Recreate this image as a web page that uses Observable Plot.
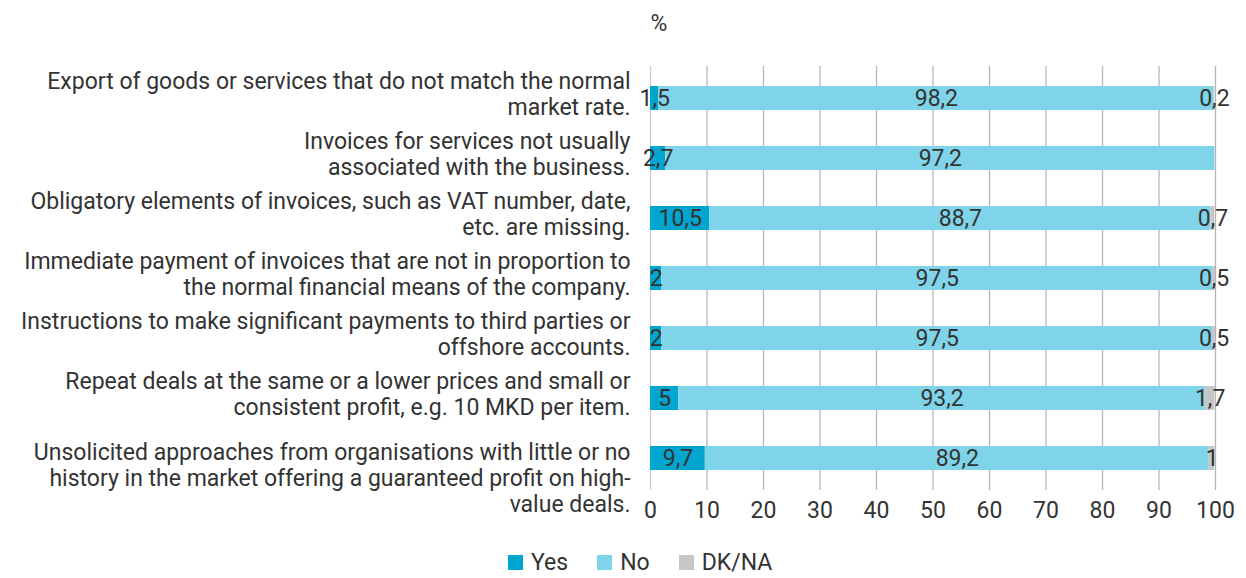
<!DOCTYPE html>
<html>
<head>
<meta charset="utf-8">
<script src="https://cdn.jsdelivr.net/npm/d3@7"></script>
<script src="https://cdn.jsdelivr.net/npm/@observablehq/plot@0.6"></script>
<style>
  html, body { margin: 0; padding: 0; background: #fff; }
  #wrap { position: relative; width: 1246px; height: 578px; font-family: "Roboto", sans-serif; color: #333; }
  #legend { position: absolute; left: 508px; top: 549px; display: flex; align-items: center; font-size: 23px; }
  .item { display: flex; align-items: center; margin-right: 29px; }
  .sw { width: 15px; height: 15px; margin-right: 8px; }
</style>
</head>
<body>
<div id="wrap"></div>
<script>
const items = [
  "Export of goods or services that do not match the normal\nmarket rate.",
  "Invoices for services not usually\nassociated with the business.",
  "Obligatory elements of invoices, such as VAT number, date,\netc. are missing.",
  "Immediate payment of invoices that are not in proportion to\nthe normal financial means of the company.",
  "Instructions to make significant payments to third parties or\noffshore accounts.",
  "Repeat deals at the same or a lower prices and small or\nconsistent profit, e.g. 10 MKD per item.",
  "Unsolicited approaches from organisations with little or no\nhistory in the market offering a guaranteed profit on high-\nvalue deals."
];
const answers = ["Yes", "No", "DK/NA"];
const colors = ["#00a6cf", "#80d4e9", "#c6c6c6"];
const yes  = [1.5, 2.7, 10.5, 2, 2, 5, 9.7];
const no   = [98.2, 97.2, 88.7, 97.5, 97.5, 93.2, 89.2];
const dkna = [0.2, null, 0.7, 0.5, 0.5, 1.7, 1];
const xTicks = [0, 10, 20, 30, 40, 50, 60, 70, 80, 90, 100];

const series = [yes, no, dkna];
const data = [];
items.forEach((item, i) => {
  answers.forEach((a, j) => {
    const v = series[j][i];
    if (v != null) data.push({item, answer: a, value: v});
  });
});
const fmt = v => String(v).replace(".", ",");
const font = '"Roboto", sans-serif';
const fs = 23;

const chart = Plot.plot({
  width: 1246,
  height: 535,
  marginTop: 66,
  marginBottom: 45,
  marginLeft: 650,
  marginRight: 31,
  style: {fontFamily: font, fontSize: fs + "px", color: "#333", background: "#fff"},
  x: {domain: [0, 100], ticks: xTicks, tickSize: 0, tickPadding: 11, label: null},
  y: {domain: items, paddingInner: 0.6, paddingOuter: 0.3, axis: null},
  color: {domain: answers, range: colors},
  marks: [
    Plot.ruleX(xTicks, {x: d => d, stroke: d => d === 0 ? "#d0d0d0" : "#b5b5b5", strokeWidth: 1.3}),
    Plot.barX(data, Plot.stackX({x: "value", y: "item", fill: "answer", order: answers})),
    Plot.text(data, Plot.stackX({x: "value", y: "item", z: "answer", order: answers, text: d => fmt(d.value), fill: "#333", fontSize: fs})),
    Plot.text(items.slice(0, 6), {y: d => d, text: d => d, frameAnchor: "left", textAnchor: "end", dx: -20, dy: -5, lineHeight: 1.14, fill: "#333", fontSize: fs}),
    Plot.text(items.slice(6), {y: d => d, text: d => d, frameAnchor: "left", textAnchor: "end", dx: -20, dy: 19, lineHeight: 1.14, fill: "#333", fontSize: fs}),
    Plot.text(["%"], {text: d => d, frameAnchor: "top-left", dy: -52, fill: "#333", fontSize: fs})
  ]
});
document.getElementById("wrap").appendChild(chart);

const legend = document.createElement("div");
legend.id = "legend";
answers.forEach((a, j) => {
  const it = document.createElement("div");
  it.className = "item";
  const sw = document.createElement("div");
  sw.className = "sw";
  sw.style.background = colors[j];
  const t = document.createElement("span");
  t.textContent = a;
  it.appendChild(sw); it.appendChild(t);
  legend.appendChild(it);
});
document.getElementById("wrap").appendChild(legend);
</script>
</body>
</html>
